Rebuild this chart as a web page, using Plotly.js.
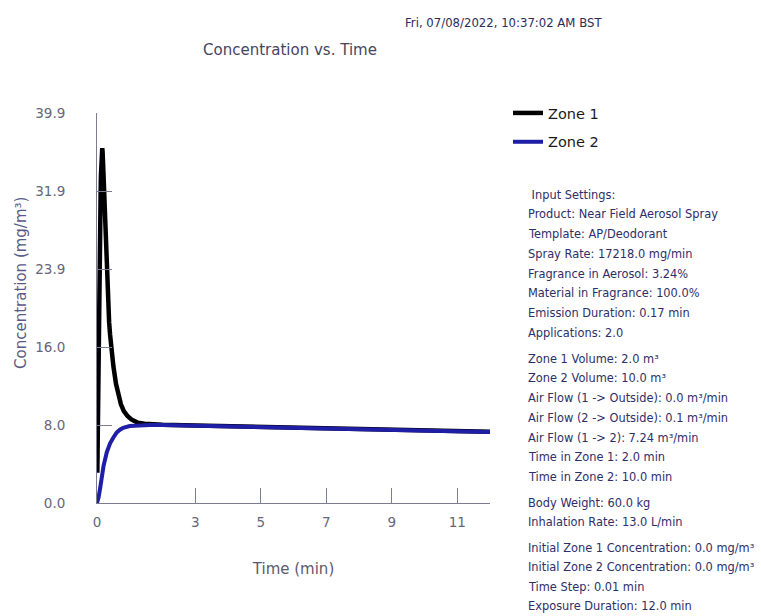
<!DOCTYPE html>
<html>
<head>
<meta charset="utf-8">
<script src="https://cdn.plot.ly/plotly-3.0.1.min.js"></script>
<style>
  html, body { margin: 0; padding: 0; background: #ffffff; }
  #chart { width: 761px; height: 616px; }
</style>
</head>
<body>
<div id="chart"></div>
<script>
// ---- data ----
const zone1Time = [0.01,0.02,0.03,0.04,0.05,0.06,0.07,0.08,0.09,0.10,0.11,0.12,0.13,0.14,0.15,0.16,0.17,0.20,0.23,0.26,0.30,0.33,0.37,0.40,0.45,0.50,0.58,0.65,0.73,0.82,0.93,1.05,1.25,1.45,1.65,1.85,2,3,4,5,6,7,8,9,10,11,12];
const zone1Conc = [3.1,7.0,12.4,16.0,20.0,23.0,26.5,28.5,26.6,29.0,31.5,33.5,35.0,35.8,36.2,36.3,36.0,33.5,30.5,27.0,23.5,21.0,18.5,17.2,15.3,14.0,12.2,11.1,10.1,9.4,8.9,8.55,8.2,8.1,8.05,8.02,8.0,7.92,7.85,7.78,7.70,7.62,7.55,7.48,7.41,7.35,7.29];

const zone2Time = [0,0.05,0.10,0.15,0.20,0.30,0.40,0.50,0.60,0.70,0.80,1.0,1.3,1.6,2,3,4,5,6,7,8,9,10,11,12];
const zone2Conc = [0,0.6,1.6,2.9,3.8,5.2,6.1,6.7,7.2,7.5,7.7,7.88,7.96,7.98,7.97,7.90,7.83,7.76,7.68,7.60,7.53,7.46,7.39,7.33,7.27];

const seriesNames = ["Zone 1", "Zone 2"];

const xTickVals = [0, 3, 5, 7, 9, 11];
const xTickText = ["0", "3", "5", "7", "9", "11"];
const yTickVals = [0, 7.98, 15.96, 23.94, 31.92, 39.9];
const yTickText = ["0.0", "8.0", "16.0", "23.9", "31.9", "39.9"];

const chartTitle = "Concentration vs. Time";
const timestamp = "Fri, 07/08/2022, 10:37:02 AM BST";
const xTitle = "Time (min)";
const yTitle = "Concentration (mg/m³)";

const settingsLines = [
  " Input Settings:",
  "Product: Near Field Aerosol Spray",
  "Template: AP/Deodorant",
  "Spray Rate: 17218.0 mg/min",
  "Fragrance in Aerosol: 3.24%",
  "Material in Fragrance: 100.0%",
  "Emission Duration: 0.17 min",
  "Applications: 2.0",
  "Zone 1 Volume: 2.0 m³",
  "Zone 2 Volume: 10.0 m³",
  "Air Flow (1 -> Outside): 0.0 m³/min",
  "Air Flow (2 -> Outside): 0.1 m³/min",
  "Air Flow (1 -> 2): 7.24 m³/min",
  "Time in Zone 1: 2.0 min",
  "Time in Zone 2: 10.0 min",
  "Body Weight: 60.0 kg",
  "Inhalation Rate: 13.0 L/min",
  "Initial Zone 1 Concentration: 0.0 mg/m³",
  "Initial Zone 2 Concentration: 0.0 mg/m³",
  "Time Step: 0.01 min",
  "Exposure Duration: 12.0 min"
];
// vertical layout of the settings block (pixel centres)
const settingsY = [195,214,234,254,274,293,313,333,359,378,398,418,438,457,477,503,522,548,567,587,606];

// ---- layout geometry ----
const W = 761, H = 616;
const PL = 97, PR = 490, PT = 113, PB = 503;
const FONT = "DejaVu Sans, Verdana, sans-serif";
const px2x = p => (p - PL) / (PR - PL);
const px2y = p => (PB - p) / (PB - PT);

const axisColor = "#7c7c90";

const traces = [
  {
    x: zone1Time, y: zone1Conc, name: seriesNames[0], type: "scatter", mode: "lines",
    line: { color: "#000000", width: 4.5 }, legendgroup: "a"
  },
  {
    x: zone2Time, y: zone2Conc, name: seriesNames[1], type: "scatter", mode: "lines",
    line: { color: "#1e1ea6", width: 4 }, legendgroup: "b"
  }
];

const annotations = [];
annotations.push({
  text: timestamp, xref: "paper", yref: "paper", x: px2x(403), y: px2y(23),
  xanchor: "left", yanchor: "middle", showarrow: false,
  font: { family: FONT, size: 11.7, color: "#2c2c5c" }
});
annotations.push({
  text: yTitle, xref: "paper", yref: "paper", x: px2x(21), y: px2y(283),
  xanchor: "center", yanchor: "middle", textangle: -90, showarrow: false,
  font: { family: FONT, size: 15, color: "#5a5a88" }
});
settingsLines.forEach((t, i) => {
  annotations.push({
    text: t.replace(/>/g, "&gt;"), xref: "paper", yref: "paper",
    x: px2x(526), y: px2y(settingsY[i]),
    xanchor: "left", yanchor: "middle", showarrow: false,
    font: { family: FONT, size: 11.4, color: "#2e2e68" }
  });
});

const layout = {
  width: W, height: H,
  paper_bgcolor: "#ffffff", plot_bgcolor: "#ffffff",
  margin: { l: PL, r: W - PR, t: PT, b: H - PB, pad: 0 },
  title: {
    text: chartTitle, xref: "container", yref: "container",
    x: 290 / W, y: 1 - 50 / H, xanchor: "center", yanchor: "middle",
    font: { family: FONT, size: 15, color: "#454560" }
  },
  showlegend: true,
  legend: {
    x: px2x(508), y: px2y(97), xanchor: "left", yanchor: "top",
    bgcolor: "rgba(0,0,0,0)", tracegroupgap: 7, traceorder: "grouped",
    font: { family: FONT, size: 14.5, color: "#1a1a1a" }
  },
  xaxis: {
    range: [0, 12], showgrid: false, zeroline: false,
    showline: true, linecolor: axisColor, linewidth: 1,
    tickmode: "array", tickvals: xTickVals, ticktext: xTickText,
    ticks: "inside", ticklen: 15, tickwidth: 1, tickcolor: axisColor,
    ticklabelstandoff: 7,
    tickfont: { family: FONT, size: 13.5, color: "#66667a" },
    title: { text: xTitle, standoff: 34, font: { family: FONT, size: 15, color: "#5a5a6e" } }
  },
  yaxis: {
    range: [0, 39.9], showgrid: false, zeroline: false,
    showline: true, linecolor: axisColor, linewidth: 1,
    tickmode: "array", tickvals: yTickVals, ticktext: yTickText,
    ticks: "inside", ticklen: 15, tickwidth: 1, tickcolor: axisColor,
    ticklabelstandoff: 28,
    tickfont: { family: FONT, size: 13.5, color: "#66667a" }
  },
  annotations: annotations
};

Plotly.newPlot("chart", traces, layout, { displayModeBar: false, staticPlot: true });
</script>
</body>
</html>
